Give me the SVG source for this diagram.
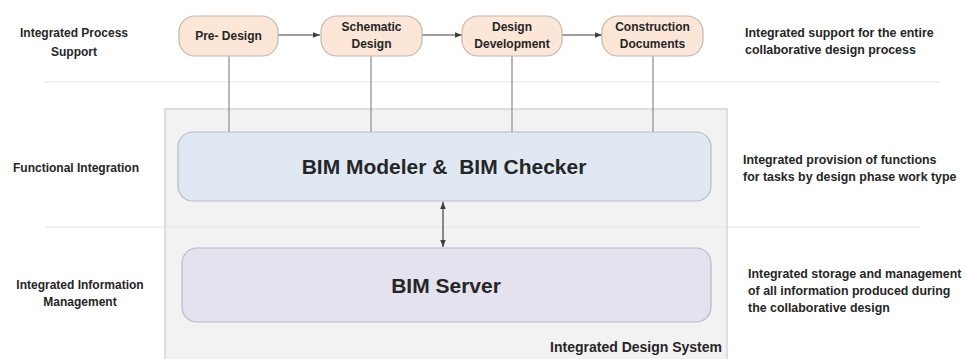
<svg xmlns="http://www.w3.org/2000/svg" width="966" height="359" viewBox="0 0 966 359">
<style>
text{font-family:"Liberation Sans",Arial,sans-serif;font-weight:bold;fill:#262626}
.lbl{font-size:12px}
.rl{font-size:12.4px}
.ph rect{fill:#fbe6d8;stroke:#c4b9b0;stroke-width:1.2}
.ph text{font-size:12px;text-anchor:middle}
.sep{stroke:#e6e6e6;stroke-width:1.2}
.conn{stroke:#8a8a8a;stroke-width:1.2;fill:none}
.arr{stroke:#404040;stroke-width:1.2;fill:none}
.big{font-size:21px;text-anchor:middle}
</style>
<defs>
<marker id="ah" viewBox="0 0 10 10" refX="10" refY="5" markerWidth="7" markerHeight="7" orient="auto-start-reverse" markerUnits="userSpaceOnUse">
<path d="M0,1 L10,5 L0,9 z" fill="#404040"/>
</marker>
</defs>
<rect width="966" height="359" fill="#ffffff"/>
<g id="system">
<rect x="165" y="109" width="562" height="260" fill="#f2f2f2" stroke="#cccccc" stroke-width="1.2"/>
<text x="722" y="352" style="font-size:14px;text-anchor:end">Integrated Design System</text>
</g>
<g id="separators">
<line class="sep" x1="45" y1="82" x2="940" y2="82"/>
<line class="sep" x1="45" y1="227" x2="920" y2="227"/>
</g>
<g id="row-labels">
<text class="lbl" x="74" y="37" text-anchor="middle">Integrated Process</text>
<text class="lbl" x="74" y="56" text-anchor="middle">Support</text>
<text class="lbl" x="76" y="172" text-anchor="middle">Functional Integration</text>
<text class="lbl" x="80" y="289" text-anchor="middle">Integrated Information</text>
<text class="lbl" x="80" y="306" text-anchor="middle">Management</text>
</g>
<g id="desc-labels">
<text class="rl" x="745" y="37">Integrated support for the entire</text>
<text class="rl" x="745" y="54">collaborative design process</text>
<text class="rl" x="743" y="164">Integrated provision of functions</text>
<text class="rl" x="743" y="181">for tasks by design phase work type</text>
<text class="rl" x="748" y="278">Integrated storage and management</text>
<text class="rl" x="748" y="295">of all information produced during</text>
<text class="rl" x="748" y="312">the collaborative design</text>
</g>
<g id="connectors">
<line class="conn" x1="229" y1="56" x2="229" y2="132"/>
<line class="conn" x1="371" y1="56" x2="371" y2="132"/>
<line class="conn" x1="512" y1="56" x2="512" y2="132"/>
<line class="conn" x1="653" y1="56" x2="653" y2="132"/>
<line class="arr" x1="278" y1="35" x2="320" y2="35" marker-end="url(#ah)"/>
<line class="arr" x1="422" y1="35" x2="462" y2="35" marker-end="url(#ah)"/>
<line class="arr" x1="562" y1="35" x2="602" y2="35" marker-end="url(#ah)"/>
<line class="arr" x1="443" y1="202" x2="443" y2="247" marker-start="url(#ah)" marker-end="url(#ah)"/>
</g>
<g id="pre-design" class="ph">
<rect x="179" y="16" width="99" height="40" rx="16"/>
<text x="228.5" y="40">Pre- Design</text>
</g>
<g id="schematic-design" class="ph">
<rect x="321" y="16" width="101" height="40" rx="16"/>
<text x="371.5" y="31">Schematic</text>
<text x="371.5" y="48">Design</text>
</g>
<g id="design-development" class="ph">
<rect x="462" y="16" width="100" height="40" rx="16"/>
<text x="512" y="31">Design</text>
<text x="512" y="48">Development</text>
</g>
<g id="construction-documents" class="ph">
<rect x="602" y="16" width="101" height="40" rx="16"/>
<text x="652.5" y="31">Construction</text>
<text x="652.5" y="48">Documents</text>
</g>
<g id="bim-modeler">
<rect x="178" y="132" width="533" height="69" rx="15" fill="#dfe8f3" stroke="#b8bcc4" stroke-width="1.2"/>
<text class="big" x="444" y="174" xml:space="preserve">BIM Modeler &amp;  BIM Checker</text>
</g>
<g id="bim-server">
<rect x="182" y="248" width="529" height="74" rx="15" fill="#e4e2ee" stroke="#b8b8c4" stroke-width="1.2"/>
<text class="big" x="446" y="293">BIM Server</text>
</g>
</svg>
